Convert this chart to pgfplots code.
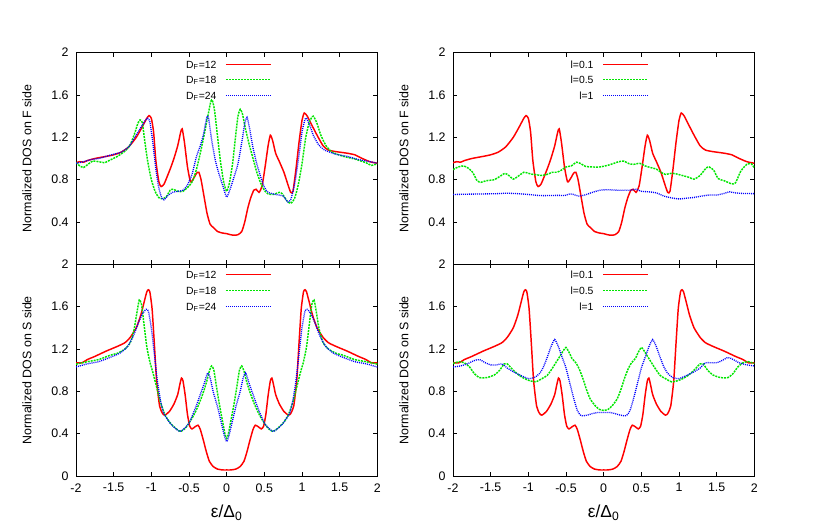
\documentclass[border=0pt]{standalone}
\usepackage{pgfplots}
\pgfplotsset{compat=1.18}
\usepackage{pgfplotstable}
\usepackage{fontspec}
\setmainfont{Liberation Sans}
\definecolor{gpgreen}{RGB}{0,230,0}

% ---------- F side ----------
\pgfplotstableread{
e v
-2.00 0.96
-1.95 0.97
-1.90 0.965
-1.85 0.98
-1.75 1.00
-1.60 1.02
-1.50 1.035
-1.40 1.06
-1.30 1.11
-1.20 1.20
-1.12 1.30
-1.06 1.38
-1.03 1.405
-1.00 1.38
-0.97 1.25
-0.94 0.98
-0.90 0.78
-0.87 0.735
-0.83 0.76
-0.75 0.90
-0.70 1.00
-0.65 1.12
-0.61 1.25
-0.59 1.28
-0.56 1.15
-0.52 0.92
-0.48 0.78
-0.44 0.81
-0.40 0.86
-0.37 0.87
-0.34 0.80
-0.30 0.64
-0.26 0.48
-0.22 0.38
-0.18 0.35
-0.12 0.31
-0.05 0.295
0.00 0.29
0.05 0.28
0.10 0.275
0.15 0.28
0.20 0.31
0.24 0.40
0.28 0.53
0.32 0.63
0.36 0.70
0.39 0.71
0.43 0.68
0.47 0.74
0.51 0.92
0.55 1.12
0.58 1.22
0.61 1.17
0.65 1.05
0.70 0.97
0.76 0.87
0.81 0.76
0.85 0.68
0.88 0.69
0.92 0.90
0.96 1.15
1.00 1.36
1.03 1.43
1.07 1.40
1.12 1.33
1.20 1.22
1.28 1.12
1.35 1.08
1.45 1.065
1.60 1.05
1.70 1.035
1.80 1.00
1.90 0.97
2.00 0.955
}\redF

\pgfplotstableread{
e v
-2.00 0.96
-1.95 0.93
-1.90 0.915
-1.85 0.94
-1.78 0.975
-1.70 0.97
-1.62 0.96
-1.55 0.985
-1.45 1.02
-1.35 1.07
-1.28 1.13
-1.22 1.24
-1.18 1.33
-1.15 1.365
-1.12 1.34
-1.09 1.18
-1.05 0.98
-1.00 0.80
-0.95 0.69
-0.90 0.63
-0.85 0.62
-0.80 0.64
-0.75 0.70
-0.71 0.71
-0.65 0.69
-0.58 0.69
-0.50 0.74
-0.45 0.79
-0.40 0.90
-0.35 1.05
-0.30 1.22
-0.25 1.40
-0.21 1.54
-0.19 1.55
-0.16 1.45
-0.12 1.20
-0.08 0.96
-0.04 0.78
0.00 0.69
0.04 0.78
0.08 0.96
0.12 1.22
0.15 1.40
0.18 1.465
0.21 1.42
0.25 1.28
0.30 1.13
0.35 1.00
0.40 0.87
0.45 0.77
0.50 0.70
0.55 0.665
0.62 0.66
0.70 0.68
0.74 0.665
0.80 0.60
0.85 0.575
0.90 0.62
0.95 0.75
1.00 0.95
1.05 1.20
1.10 1.35
1.15 1.40
1.20 1.33
1.25 1.22
1.32 1.12
1.40 1.06
1.55 1.02
1.70 0.995
1.85 0.96
1.92 0.935
2.00 0.95
}\greenF

\pgfplotstableread{
e v
-2.00 0.955
-1.90 0.97
-1.80 0.99
-1.70 1.00
-1.60 1.02
-1.50 1.04
-1.40 1.06
-1.30 1.11
-1.22 1.20
-1.15 1.28
-1.08 1.36
-1.05 1.38
-1.02 1.35
-0.98 1.15
-0.94 0.90
-0.90 0.72
-0.86 0.625
-0.83 0.61
-0.78 0.65
-0.72 0.68
-0.65 0.69
-0.58 0.70
-0.52 0.75
-0.46 0.85
-0.40 1.02
-0.35 1.12
-0.31 1.22
-0.28 1.33
-0.26 1.40
-0.24 1.38
-0.20 1.18
-0.15 0.98
-0.10 0.85
-0.05 0.74
0.00 0.635
0.05 0.72
0.10 0.83
0.15 0.95
0.20 1.15
0.24 1.33
0.27 1.39
0.30 1.30
0.35 1.10
0.40 0.95
0.45 0.83
0.50 0.73
0.55 0.68
0.65 0.66
0.75 0.645
0.81 0.59
0.85 0.61
0.90 0.75
0.95 0.98
1.00 1.25
1.04 1.37
1.06 1.38
1.10 1.32
1.15 1.22
1.22 1.13
1.30 1.08
1.45 1.04
1.60 1.02
1.75 0.99
1.90 0.97
2.00 0.955
}\blueF

\pgfplotstableread{
e v
-2.00 0.895
-1.93 0.92
-1.86 0.93
-1.80 0.91
-1.74 0.87
-1.68 0.79
-1.63 0.775
-1.56 0.79
-1.50 0.795
-1.45 0.80
-1.38 0.83
-1.31 0.86
-1.26 0.84
-1.20 0.805
-1.14 0.83
-1.06 0.87
-1.00 0.86
-0.94 0.85
-0.88 0.845
-0.82 0.84
-0.75 0.85
-0.68 0.87
-0.62 0.87
-0.56 0.89
-0.50 0.92
-0.43 0.93
-0.36 0.965
-0.30 0.95
-0.24 0.925
-0.15 0.92
-0.05 0.92
0.05 0.935
0.12 0.95
0.20 0.97
0.27 0.975
0.34 0.95
0.40 0.945
0.48 0.955
0.55 0.93
0.62 0.915
0.70 0.90
0.76 0.87
0.82 0.85
0.90 0.86
0.96 0.855
1.04 0.84
1.12 0.825
1.20 0.805
1.28 0.84
1.36 0.91
1.40 0.92
1.46 0.89
1.52 0.81
1.60 0.79
1.70 0.76
1.75 0.77
1.82 0.88
1.90 0.945
1.96 0.95
2.00 0.91
}\greenFl

\pgfplotstableread{
e v
-2.00 0.66
-1.80 0.663
-1.60 0.665
-1.40 0.668
-1.30 0.672
-1.15 0.668
-1.00 0.66
-0.85 0.65
-0.70 0.65
-0.60 0.652
-0.52 0.65
-0.45 0.665
-0.40 0.66
-0.33 0.645
-0.25 0.655
-0.15 0.68
-0.05 0.70
0.05 0.705
0.20 0.70
0.35 0.70
0.43 0.71
0.50 0.69
0.60 0.685
0.70 0.675
0.80 0.645
0.90 0.628
1.00 0.618
1.10 0.625
1.20 0.632
1.30 0.645
1.40 0.655
1.50 0.655
1.60 0.67
1.67 0.685
1.75 0.675
1.85 0.67
2.00 0.668
}\blueFl

% ---------- S side ----------
\pgfplotstableread{
e v
-2.00 1.07
-1.92 1.07
-1.85 1.10
-1.75 1.13
-1.60 1.18
-1.45 1.225
-1.35 1.26
-1.28 1.31
-1.20 1.40
-1.14 1.52
-1.09 1.66
-1.06 1.74
-1.04 1.76
-1.02 1.74
-0.99 1.58
-0.96 1.25
-0.93 0.90
-0.89 0.66
-0.85 0.59
-0.82 0.575
-0.76 0.61
-0.70 0.68
-0.65 0.77
-0.62 0.87
-0.60 0.925
-0.58 0.90
-0.55 0.76
-0.52 0.58
-0.49 0.47
-0.46 0.445
-0.42 0.465
-0.38 0.48
-0.35 0.44
-0.31 0.34
-0.27 0.23
-0.23 0.14
-0.18 0.09
-0.12 0.065
-0.05 0.057
0.00 0.057
0.05 0.057
0.12 0.065
0.18 0.09
0.23 0.14
0.27 0.23
0.31 0.34
0.35 0.44
0.38 0.48
0.42 0.465
0.46 0.445
0.49 0.47
0.52 0.58
0.55 0.76
0.58 0.90
0.60 0.925
0.62 0.87
0.65 0.77
0.70 0.68
0.76 0.61
0.82 0.575
0.85 0.59
0.89 0.66
0.93 0.90
0.96 1.25
0.99 1.58
1.02 1.74
1.04 1.76
1.06 1.74
1.09 1.66
1.14 1.52
1.20 1.40
1.28 1.31
1.35 1.26
1.45 1.225
1.60 1.18
1.75 1.13
1.85 1.10
1.92 1.07
2.00 1.07
}\redS

\pgfplotstableread{
e v
-2.00 1.057
-1.85 1.08
-1.70 1.10
-1.55 1.14
-1.45 1.16
-1.35 1.20
-1.28 1.26
-1.23 1.38
-1.19 1.55
-1.16 1.665
-1.13 1.62
-1.10 1.45
-1.06 1.22
-1.02 1.08
-0.98 0.98
-0.93 0.84
-0.88 0.70
-0.82 0.58
-0.76 0.51
-0.70 0.465
-0.64 0.43
-0.61 0.42
-0.55 0.45
-0.50 0.50
-0.44 0.57
-0.38 0.66
-0.32 0.77
-0.27 0.88
-0.23 0.99
-0.20 1.04
-0.17 1.00
-0.13 0.82
-0.09 0.65
-0.05 0.50
-0.02 0.39
0.00 0.355
0.02 0.39
0.05 0.50
0.09 0.65
0.13 0.82
0.17 1.00
0.20 1.04
0.23 0.99
0.27 0.88
0.32 0.77
0.38 0.66
0.44 0.57
0.50 0.50
0.55 0.45
0.61 0.42
0.64 0.43
0.70 0.465
0.76 0.51
0.82 0.58
0.88 0.70
0.93 0.84
0.98 0.98
1.02 1.08
1.06 1.22
1.10 1.45
1.13 1.62
1.16 1.665
1.19 1.55
1.23 1.38
1.28 1.26
1.35 1.20
1.45 1.16
1.55 1.14
1.70 1.10
1.85 1.08
2.00 1.057
}\greenS

\pgfplotstableread{
e v
-2.00 1.03
-1.85 1.06
-1.70 1.08
-1.55 1.12
-1.42 1.16
-1.32 1.22
-1.24 1.32
-1.17 1.45
-1.12 1.53
-1.07 1.575
-1.04 1.56
-1.00 1.40
-0.96 1.15
-0.92 0.90
-0.88 0.72
-0.84 0.60
-0.80 0.55
-0.74 0.49
-0.68 0.45
-0.62 0.42
-0.56 0.45
-0.50 0.50
-0.45 0.58
-0.40 0.67
-0.35 0.77
-0.30 0.87
-0.27 0.94
-0.25 0.975
-0.22 0.93
-0.18 0.80
-0.12 0.65
-0.07 0.50
-0.03 0.38
0.00 0.325
0.03 0.38
0.07 0.50
0.12 0.65
0.18 0.80
0.22 0.93
0.25 0.975
0.27 0.94
0.30 0.87
0.35 0.77
0.40 0.67
0.45 0.58
0.50 0.50
0.56 0.45
0.62 0.42
0.68 0.45
0.74 0.49
0.80 0.55
0.84 0.60
0.88 0.72
0.92 0.90
0.96 1.15
1.00 1.40
1.04 1.56
1.07 1.575
1.12 1.53
1.17 1.45
1.24 1.32
1.32 1.22
1.42 1.16
1.55 1.12
1.70 1.08
1.85 1.06
2.00 1.03
}\blueS

\pgfplotstableread{
e v
-2.00 1.063
-1.92 1.08
-1.85 1.07
-1.78 1.03
-1.72 0.97
-1.65 0.93
-1.55 0.93
-1.45 0.955
-1.38 1.00
-1.32 1.06
-1.28 1.06
-1.20 1.00
-1.12 0.95
-1.05 0.92
-0.98 0.90
-0.90 0.89
-0.82 0.92
-0.75 0.95
-0.68 1.02
-0.60 1.11
-0.53 1.19
-0.50 1.215
-0.46 1.17
-0.42 1.11
-0.37 1.07
-0.33 1.02
-0.28 0.93
-0.23 0.82
-0.18 0.73
-0.12 0.67
-0.06 0.63
0.00 0.62
0.06 0.63
0.12 0.67
0.18 0.73
0.23 0.82
0.28 0.93
0.33 1.02
0.37 1.07
0.42 1.11
0.46 1.17
0.50 1.215
0.53 1.19
0.60 1.11
0.68 1.02
0.75 0.95
0.82 0.92
0.90 0.89
0.98 0.90
1.05 0.92
1.12 0.95
1.20 1.00
1.28 1.06
1.32 1.06
1.38 1.00
1.45 0.955
1.55 0.93
1.65 0.93
1.72 0.97
1.78 1.03
1.85 1.07
1.92 1.08
2.00 1.063
}\greenSl

\pgfplotstableread{
e v
-2.00 1.03
-1.90 1.04
-1.80 1.063
-1.72 1.09
-1.65 1.10
-1.57 1.07
-1.50 1.05
-1.42 1.05
-1.35 1.06
-1.28 1.02
-1.20 0.985
-1.10 0.95
-1.00 0.92
-0.92 0.93
-0.85 0.97
-0.80 1.03
-0.75 1.12
-0.70 1.22
-0.65 1.29
-0.60 1.22
-0.55 1.12
-0.50 1.02
-0.45 0.88
-0.40 0.74
-0.35 0.62
-0.30 0.57
-0.22 0.575
-0.15 0.59
-0.08 0.60
0.00 0.60
0.08 0.60
0.15 0.59
0.22 0.575
0.30 0.57
0.35 0.62
0.40 0.74
0.45 0.88
0.50 1.02
0.55 1.12
0.60 1.22
0.65 1.29
0.70 1.22
0.75 1.12
0.80 1.03
0.85 0.97
0.92 0.93
1.00 0.92
1.10 0.95
1.20 0.985
1.28 1.02
1.35 1.07
1.42 1.07
1.50 1.07
1.57 1.09
1.65 1.12
1.72 1.10
1.80 1.07
1.90 1.05
2.00 1.04
}\blueSl

\tikzset{
  redline/.style={color=red, line width=1.1pt, solid},
  greenline/.style={color=gpgreen, line width=1.1pt, dash pattern=on 1.5pt off 0.75pt},
  blueline/.style={color=blue, line width=1.0pt, dash pattern=on 0.75pt off 0.75pt},
}
\newcommand{\legfont}{\fontsize{7.8}{9}\selectfont}
\newcommand{\legkeys}[3]{%
  \draw[redline] (axis description cs:0.49779,#1) -- (axis description cs:0.64602,#1);
  \draw[greenline] (axis description cs:0.49779,#2) -- (axis description cs:0.64602,#2);
  \draw[blueline] (axis description cs:0.49779,#3) -- (axis description cs:0.64602,#3);
}
\newcommand{\legtexts}[6]{%
  \node[anchor=base east, inner sep=0pt, yshift=-2.7pt, font=\legfont, text=black] at (axis description cs:0.467,#1) {#4};
  \node[anchor=base east, inner sep=0pt, yshift=-2.7pt, font=\legfont, text=black] at (axis description cs:0.467,#2) {#5};
  \node[anchor=base east, inner sep=0pt, yshift=-2.7pt, font=\legfont, text=black] at (axis description cs:0.467,#3) {#6};
}

\pgfplotsset{
  dosaxis/.style={
    scale only axis, width=226pt, height=158.75pt,
    anchor=south west,
    xmin=-2, xmax=2, ymin=0, ymax=2,
    xtick={-2,-1.5,-1,-0.5,0,0.5,1,1.5,2},
    ytick={0,0.4,0.8,1.2,1.6,2},
    tick align=inside,
    major tick length=3pt,
    tick style={black, line width=0.5pt},
    axis line style={black, line width=0.6pt},
    tick label style={font=\fontsize{9.3}{11}\selectfont},
    xticklabel style={yshift=-2pt},
    yticklabel style={xshift=-2pt},
    /pgf/number format/assume math mode=true,
    ylabel style={font=\fontsize{9.3}{11}\selectfont, at={(axis description cs:-0.163,0.5)}, anchor=center},
    xlabel style={font=\fontsize{13}{15}\selectfont, at={(axis description cs:0.5,0)}, anchor=center, yshift=-27.5pt},
  },
  toppanel/.style={dosaxis, xticklabels={}, yticklabels={{},0.4,0.8,1.2,1.6,2}},
  botpanel/.style={dosaxis, xticklabels={-2,-1.5,-1,-0.5,0,0.5,1,1.5,2}, yticklabels={0,0.4,0.8,1.2,1.6,2}, xlabel={ε/Δ\textsubscript{0}}},
}

\begin{document}
\begin{tikzpicture}
\path[use as bounding box] (0,0) rectangle (622.5pt,396.75pt);

% top left
\begin{axis}[toppanel, at={(57pt,198.5pt)}, ylabel={Normalized DOS on F side}]
\addplot[redline, smooth, tension=0.35] table[x=e,y=v] {\redF};
\addplot[greenline, smooth, tension=0.35] table[x=e,y=v] {\greenF};
\addplot[blueline, smooth, tension=0.35] table[x=e,y=v] {\blueF};
\legkeys{0.94409}{0.87323}{0.79764}
\legtexts{0.94409}{0.87323}{0.79764}{D\textsubscript{F}=12}{D\textsubscript{F}=18}{D\textsubscript{F}=24}
\end{axis}

% bottom left
\begin{axis}[botpanel, at={(57pt,39.75pt)}, ylabel={Normalized DOS on S side}]
\addplot[redline, smooth, tension=0.35] table[x=e,y=v] {\redS};
\addplot[greenline, smooth, tension=0.35] table[x=e,y=v] {\greenS};
\addplot[blueline, smooth, tension=0.35] table[x=e,y=v] {\blueS};
\legkeys{0.95197}{0.87638}{0.80079}
\legtexts{0.95197}{0.87638}{0.80079}{D\textsubscript{F}=12}{D\textsubscript{F}=18}{D\textsubscript{F}=24}
\end{axis}

% top right
\begin{axis}[toppanel, at={(339.75pt,198.5pt)}, ylabel={Normalized DOS on F side}]
\addplot[redline, smooth, tension=0.35] table[x=e,y=v] {\redF};
\addplot[greenline, smooth, tension=0.35] table[x=e,y=v] {\greenFl};
\addplot[blueline, smooth, tension=0.35] table[x=e,y=v] {\blueFl};
\legkeys{0.94409}{0.87323}{0.79764}
\legtexts{0.94409}{0.87323}{0.79764}{l=0.1}{l=0.5}{l=1}
\end{axis}

% bottom right
\begin{axis}[botpanel, at={(339.75pt,39.75pt)}, ylabel={Normalized DOS on S side}]
\addplot[redline, smooth, tension=0.35] table[x=e,y=v] {\redS};
\addplot[greenline, smooth, tension=0.35] table[x=e,y=v] {\greenSl};
\addplot[blueline, smooth, tension=0.35] table[x=e,y=v] {\blueSl};
\legkeys{0.95197}{0.87638}{0.80079}
\legtexts{0.95197}{0.87638}{0.80079}{l=0.1}{l=0.5}{l=1}
\end{axis}
\end{tikzpicture}
\end{document}
